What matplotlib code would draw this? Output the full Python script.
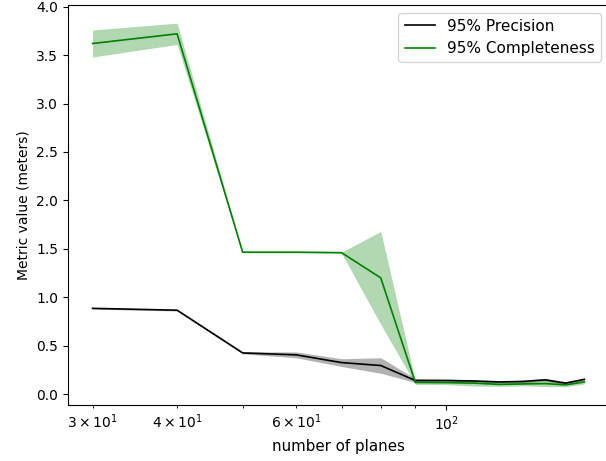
import matplotlib.pyplot as plt
import numpy as np


planes = np.array([30, 40, 50, 60, 70, 80, 90, 100, 110, 120, 130, 140, 150, 160])

precision = np.array(
    [0.885, 0.866, 0.425, 0.405, 0.325, 0.295, 0.14, 0.14, 0.135, 0.125, 0.13, 0.147, 0.113, 0.152]
)
precision_std = np.array(
    [0.008, 0.008, 0.01, 0.03, 0.04, 0.08, 0.02, 0.015, 0.01, 0.01, 0.015, 0.015, 0.015, 0.01]
)

completeness = np.array(
    [3.62, 3.72, 1.465, 1.465, 1.46, 1.20, 0.12, 0.118, 0.113, 0.10, 0.105, 0.108, 0.095, 0.125]
)
completeness_std = np.array(
    [0.14, 0.11, 0.005, 0.005, 0.005, 0.48, 0.02, 0.02, 0.03, 0.02, 0.02, 0.03, 0.02, 0.02]
)

fig = plt.figure(figsize=(6.06, 4.61), dpi=100)
ax = fig.add_axes([0.1122, 0.1215, 0.8927, 0.8677])

ax.plot(planes, precision, color="k", lw=1.2, label="95% Precision")
ax.fill_between(
    planes, precision - precision_std, precision + precision_std, color="k", alpha=0.3, lw=0
)
ax.plot(planes, completeness, color="g", lw=1.2, label="95% Completeness")
ax.fill_between(
    planes,
    completeness - completeness_std,
    completeness + completeness_std,
    color="g",
    alpha=0.3,
    lw=0,
)

ax.set_xscale("log")
ax.set_xlabel("number of planes", fontsize=10.8)
ax.set_ylabel("Metric value (meters)")
ax.legend(loc="upper right", fontsize=11)

fig.savefig("out.png", dpi=100)
